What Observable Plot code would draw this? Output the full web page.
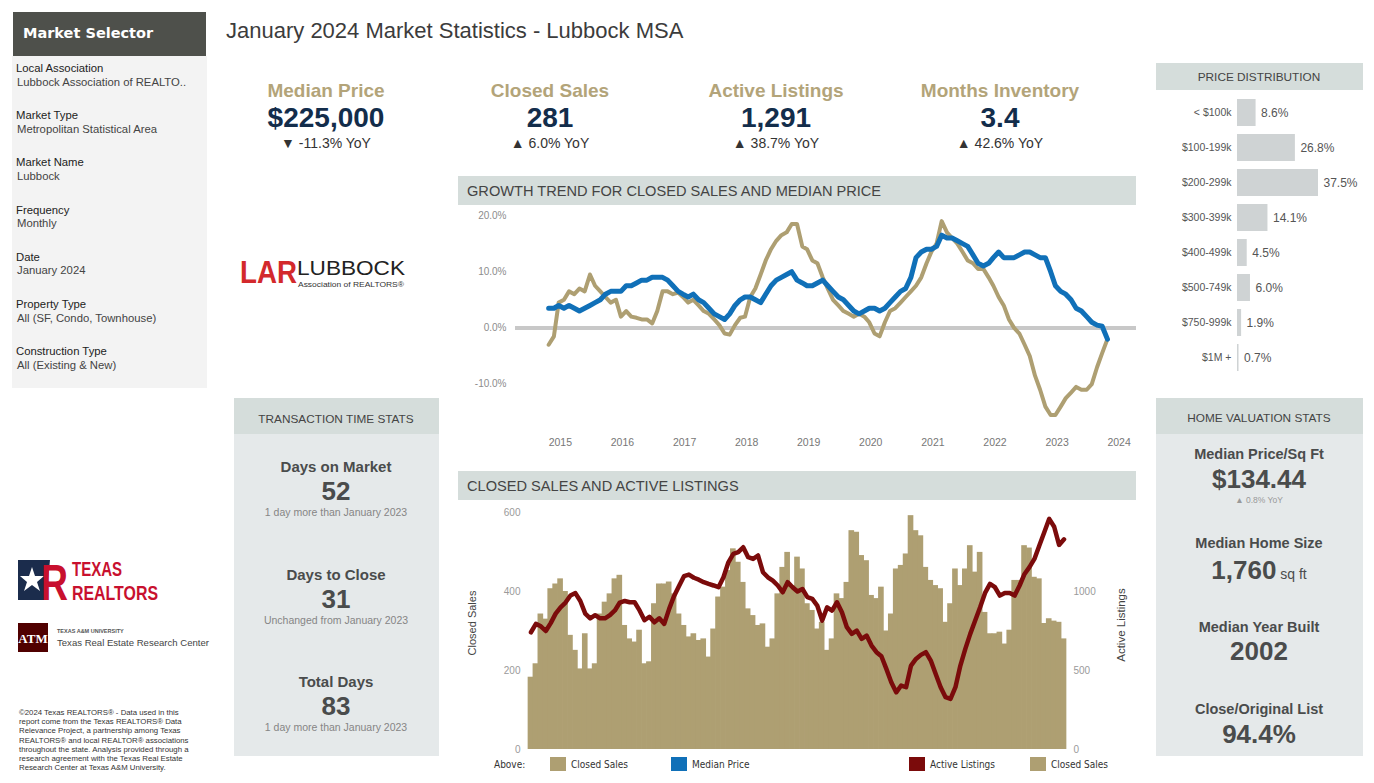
<!DOCTYPE html>
<html><head><meta charset="utf-8">
<script src="https://cdn.jsdelivr.net/npm/d3@7"></script>
<script src="https://cdn.jsdelivr.net/npm/@observablehq/plot@0.6"></script>
<style>
body{margin:0;background:#fff;font-family:"Liberation Sans",Arial,sans-serif;}
#page{position:relative;width:1374px;height:783px;overflow:hidden;background:#fff;}
.w{position:absolute;}
</style></head>
<body><div id="page"></div>
<script>
// ---------------- DATA ----------------
const selectorLabels = ["Local Association","Market Type","Market Name","Frequency","Date","Property Type","Construction Type"];
const selectorValues = ["Lubbock Association of REALTO..","Metropolitan Statistical Area","Lubbock","Monthly","January 2024","All (SF, Condo, Townhouse)","All (Existing & New)"];

const kpiLabels = ["Median Price","Closed Sales","Active Listings","Months Inventory"];
const kpiValues = ["$225,000","281","1,291","3.4"];
const kpiYoY = ["▼ -11.3% YoY","▲ 6.0% YoY","▲ 38.7% YoY","▲ 42.6% YoY"];

const priceBins = ["< $100k","$100-199k","$200-299k","$300-399k","$400-499k","$500-749k","$750-999k","$1M +"];
const priceShares = [8.6, 26.8, 37.5, 14.1, 4.5, 6.0, 1.9, 0.7];

const timeStatLabels = ["Days on Market","Days to Close","Total Days"];
const timeStatValues = ["52","31","83"];
const timeStatNotes = ["1 day more than January 2023","Unchanged from January 2023","1 day more than January 2023"];

const homeStatLabels = ["Median Price/Sq Ft","Median Home Size","Median Year Built","Close/Original List"];
const homeStatValues = ["$134.44","1,760","2002","94.4%"];

// monthly Jan 2015 .. Jan 2024 (109 months)
const months = d3.utcMonth.range(new Date(Date.UTC(2015,0,1)), new Date(Date.UTC(2024,1,1)));
const yearTicks = [2015,2016,2017,2018,2019,2020,2021,2022,2023,2024];
const growthTicks = [-10, 0, 10, 20];

// YoY growth, closed sales (%)
const salesGrowth = [
 -3,-1.5,4.5,5,6.5,6,7,6.5,9.5,7.5,6.5,5.5,
 4.5,5,2,3,2,1.8,1.5,1.5,0.8,3,6.5,6.5,
 6,6.3,5.5,4.5,5,4,3,2.5,1.5,0.5,-1,-1.2,
 0.5,1.8,2,5.5,7,9.5,12,14,15.5,16.5,17,18.5,
 18.5,14.5,14,12,11.5,9,7,5,4,3,2.5,2,
 2.5,2,1,-1,-1.5,1,3,3.5,4.5,5.5,6.5,7.5,
 9,11.5,13.5,15,19,17,16,15,13.5,12,11.5,10.5,
 10.5,9,7.5,5.5,4,1.5,0,-1,-3,-5,-8.5,-11,
 -14,-15.5,-15.5,-14,-12.5,-11.5,-10.5,-11,-11,-10,-7,-4.5,
 -2];
// YoY growth, median price (%)
const priceGrowth = [
 3.5,3.5,4,3.5,4,3.5,3,3.5,4,4.5,5,6,
 6.5,6.5,6.5,7.5,7.5,8,8.5,8.5,9,9,9,8.5,
 7.5,6.5,6,5.5,6,5,4.5,3.5,2.5,2,1.5,2.5,
 4,5,5.5,5.5,5,4.5,6,7.5,8.5,9,9.5,10,
 8.5,8,7.5,7.5,8,8.5,7.5,6.5,5.5,5,4,3,
 2.5,3,3.5,3.5,3,3.5,4.5,5.5,6.5,7,9,12.5,
 13.5,14,14,14.5,16.5,16,16,15.5,15,14.5,13,11.5,
 11,11.5,12.5,13.5,12.5,12.5,12.5,13,13.5,13.5,13,12.5,
 12.5,10,7.5,6.5,6,5,3.5,3,2,1,0.5,0.3,
 -2];

// Closed sales (monthly count)
const closedSales = [
 183,217,343,330,407,419,432,400,289,251,204,293,
 204,217,343,373,394,432,441,314,280,272,302,217,
 222,369,419,419,424,394,343,314,285,293,276,280,
 234,305,386,411,453,508,474,423,356,339,314,318,
 259,280,394,461,499,415,487,457,369,352,305,322,
 251,280,394,382,423,554,550,491,478,390,382,411,
 300,343,457,466,495,592,554,541,461,428,415,407,
 322,369,457,415,457,516,449,499,347,293,293,297,
 267,302,428,428,516,510,436,432,319,331,325,322,
 280];
// Active listings (monthly)
const activeListings = [
 742,795,780,750,800,860,900,930,975,990,940,860,
 830,850,830,830,850,880,930,940,932,932,880,818,
 840,805,830,795,890,972,1035,1097,1107,1087,1075,1059,
 1048,1038,1027,1090,1185,1238,1249,1280,1217,1206,1228,1122,
 1090,1069,1038,995,1059,1027,1000,1016,964,953,911,816,
 900,879,932,869,774,732,753,700,721,658,616,590,
 510,426,362,405,394,531,573,599,616,563,478,394,
 331,320,394,531,637,732,816,900,991,1048,1027,974,
 991,991,974,1038,1111,1154,1206,1291,1375,1460,1410,1295,
 1330];
const salesTicks = [0, 200, 400, 600];
const listingTicks = [0, 500, 1000];
const listingsPerSale = 2.5; // right-axis ratio (1500 : 600)

const legendItems = [["Above:", null],["Closed Sales","gold"],["Median Price","blue"],["Active Listings","red"],["Closed Sales","gold"]];

const copyrightLines = [
 "©2024 Texas REALTORS® - Data used in this",
 "report come from the Texas REALTORS® Data",
 "Relevance Project, a partnership among Texas",
 "REALTORS® and local REALTOR® associations",
 "throughout the state. Analysis provided through a",
 "research agreement with the Texas Real Estate",
 "Research Center at Texas A&M University."];

// ---------------- STYLE ----------------
const C = {gold:"#ae9f72", blue:"#1070b8", red:"#7b0b0b", head:"#d5dddb", panel:"#e5e9ea",
  kpiLabel:"#b3a479", kpiValue:"#132d4b", stat:"#4a4c4c"};
const FONT = '"Liberation Sans", Arial, sans-serif';
const page = document.getElementById("page");

function box(x,y,w,h,bg){const d=document.createElement("div");d.className="w";
  d.style.cssText+=`left:${x}px;top:${y}px;width:${w}px;height:${h}px;background:${bg};`;page.appendChild(d);return d;}
function txt(s,x,y,css,anchor){const d=document.createElement("div");d.className="w";d.textContent=s;
  const tx=anchor==="middle"?"-50%":anchor==="end"?"-100%":"0";
  d.style.cssText+=`left:${x}px;top:${y}px;transform:translate(${tx},-50%);white-space:nowrap;line-height:1.1;${css}`;
  page.appendChild(d);return d;}
function html(s,x,y,css){const d=document.createElement("div");d.className="w";d.innerHTML=s;
  d.style.cssText+=`left:${x}px;top:${y}px;${css}`;page.appendChild(d);return d;}

// ---------------- LEFT PANEL ----------------
box(12,56,195,332,"#f3f3f3");
box(13,12,193,44,"#4e504b");
txt("Market Selector",23,34,'font-family:"DejaVu Sans",Verdana;font-weight:bold;font-size:14.5px;color:#fff;');
selectorLabels.forEach((l,i)=>{
  const y=68+i*47.2;
  txt(l,16,y,"font-size:11.3px;color:#222;");
  txt(selectorValues[i],17,y+13.5,"font-size:11.3px;color:#444;");
});

// ---------------- TITLE & KPIs ----------------
txt("January 2024 Market Statistics - Lubbock MSA",226,31,"font-size:22px;color:#3c3c3c;");
const kpiX=[326,550,776,1000];
kpiLabels.forEach((l,i)=>{
  txt(l,kpiX[i],91,`font-size:19px;font-weight:bold;color:${C.kpiLabel};`,"middle");
  txt(kpiValues[i],kpiX[i],118,`font-size:28px;font-weight:bold;color:${C.kpiValue};`,"middle");
  txt(kpiYoY[i],kpiX[i],144,"font-size:14px;color:#333;","middle");
});

// LAR logo
html(`<svg width="172" height="34" style="overflow:visible">
 <text x="0" y="27" font-family="Liberation Sans" font-weight="bold" font-size="31" fill="#d3292c" textLength="57" lengthAdjust="spacingAndGlyphs">LAR</text>
 <text x="57" y="19" font-family="Liberation Sans" font-size="21" fill="#222" textLength="108" lengthAdjust="spacingAndGlyphs">LUBBOCK</text>
 <text x="58" y="30.5" font-family="Liberation Sans" font-size="7" fill="#333" textLength="106" lengthAdjust="spacingAndGlyphs">Association of REALTORS®</text>
</svg>`,240,256,"");

// ---------------- GROWTH CHART ----------------
box(458,176,678,29,C.head);
txt("GROWTH TREND FOR CLOSED SALES AND MEDIAN PRICE",467,190.5,"font-size:14.6px;color:#444;");
const growthRows = months.map((d,i)=>({date:d, sales:salesGrowth[i], price:priceGrowth[i]}));
const growth = Plot.plot({
  width:678, height:250, marginLeft:57, marginRight:0, marginTop:10, marginBottom:27,
  style:{background:"transparent", fontFamily:FONT, fontSize:"10px", color:"#8c8c8c", overflow:"visible"},
  x:{type:"utc", domain:[new Date(Date.UTC(2014,5,20)), new Date(Date.UTC(2024,5,20))]},
  y:{domain:[-17.9, 20]},
  marks:[
    Plot.ruleY([0],{stroke:"#c8c8c8", strokeWidth:4}),
    Plot.axisY(growthTicks,{tickSize:0, tickPadding:9, label:null, tickFormat:d=>d.toFixed(1)+"%"}),
    Plot.axisX(yearTicks.map(y=>new Date(Date.UTC(y,0,1))),{tickSize:0, tickPadding:10, textAnchor:"start", label:null, tickFormat:d=>String(d.getUTCFullYear()), fontSize:10.5, fill:"#777"}),
    Plot.lineY(growthRows,{x:"date", y:"sales", stroke:C.gold, strokeWidth:4, strokeLinejoin:"round"}),
    Plot.lineY(growthRows,{x:"date", y:"price", stroke:C.blue, strokeWidth:5, strokeLinejoin:"round"})
  ]
});
const gw=document.createElement("div");gw.className="w";gw.style.cssText+="left:458px;top:205px;";gw.appendChild(growth);page.appendChild(gw);

// ---------------- CLOSED SALES / ACTIVE LISTINGS ----------------
box(458,471,678,29,C.head);
txt("CLOSED SALES AND ACTIVE LISTINGS",467,485.5,"font-size:14.6px;color:#444;");
const monthKeys = months.map(d=>d3.utcFormat("%Y-%m")(d));
const salesRows = months.map((d,i)=>({key:monthKeys[i], sales:closedSales[i], listings:activeListings[i]}));
const bars = Plot.plot({
  width:678, height:252, marginLeft:70, marginRight:70, marginTop:12, marginBottom:3,
  style:{background:"transparent", fontFamily:FONT, fontSize:"10px", color:"#9a9a9a", overflow:"visible"},
  x:{type:"band", domain:monthKeys, padding:0, axis:null},
  y:{domain:[0,600]},
  marks:[
    Plot.barY(salesRows,{x:"key", y:"sales", fill:C.gold, insetLeft:-0.35, insetRight:-0.35}),
    Plot.lineY(salesRows,{x:"key", y:d=>d.listings/listingsPerSale, stroke:C.red, strokeWidth:4.5, strokeLinejoin:"round"}),
    Plot.axisY(salesTicks,{anchor:"left", tickSize:0, tickPadding:8, label:null}),
    Plot.axisY(listingTicks.map(v=>v/listingsPerSale),{anchor:"right", tickSize:0, tickPadding:7, label:null, tickFormat:d=>String(Math.round(d*listingsPerSale))})
  ]
});
const bw=document.createElement("div");bw.className="w";bw.style.cssText+="left:458px;top:500px;";bw.appendChild(bars);page.appendChild(bw);
txt("Closed Sales",472,623,"font-size:11px;color:#444;transform:translate(-50%,-50%) rotate(-90deg);","middle");
txt("Active Listings",1121,625,"font-size:11.5px;color:#444;transform:translate(-50%,-50%) rotate(-90deg);","middle");

// legend
const legX=[494,550,671,909,1030];
const LF='font-family:"DejaVu Sans Condensed","DejaVu Sans";font-stretch:condensed;font-size:10px;color:#333;';
legendItems.forEach(([name,col],i)=>{
  if(!col){txt(name,legX[i],764,LF);return;}
  box(legX[i],757,16,14,C[col]);
  txt(name,legX[i]+21,764,LF);
});

// ---------------- PRICE DISTRIBUTION ----------------
box(1156,63,207,27,C.head);
txt("PRICE DISTRIBUTION",1259,77,"font-size:11.8px;color:#444;","middle");
const priceRows = priceBins.map((b,i)=>({bin:b, pct:priceShares[i]}));
const dist = Plot.plot({
  width:206, height:285, marginLeft:81, marginRight:44, marginTop:3, marginBottom:3,
  style:{background:"transparent", fontFamily:FONT, fontSize:"10.5px", color:"#555", overflow:"visible"},
  x:{domain:[0,37.5], axis:null},
  y:{type:"band", domain:priceBins, paddingInner:0.23, paddingOuter:0.1, axis:null},
  marks:[
    Plot.barX(priceRows,{y:"bin", x:"pct", fill:"#cfd3d4"}),
    Plot.axisY({tickSize:0, tickPadding:6, label:null}),
    Plot.text(priceRows,{y:"bin", x:"pct", text:d=>d.pct.toFixed(1)+"%", textAnchor:"start", dx:5, fontSize:12, fill:"#555"})
  ]
});
const dw=document.createElement("div");dw.className="w";dw.style.cssText+="left:1156px;top:92px;";dw.appendChild(dist);page.appendChild(dw);

// ---------------- TRANSACTION TIME STATS ----------------
box(234,398,205,358,C.panel);
box(234,398,205,36,C.head);
txt("TRANSACTION TIME STATS",336,419,"font-size:11.8px;color:#444;","middle");
const tsY=[467,575,682];
timeStatLabels.forEach((l,i)=>{
  txt(l,336,tsY[i],`font-size:15px;font-weight:bold;color:${C.stat};`,"middle");
  txt(timeStatValues[i],336,tsY[i]+24,`font-size:26px;font-weight:bold;color:${C.stat};`,"middle");
  txt(timeStatNotes[i],336,tsY[i]+46,"font-size:10.5px;color:#858585;","middle");
});

// ---------------- HOME VALUATION STATS ----------------
box(1156,398,207,358,C.panel);
box(1156,398,207,36,C.head);
txt("HOME VALUATION STATS",1259,418,"font-size:11.8px;color:#444;","middle");
const hsY=[455,544,628,710];
homeStatLabels.forEach((l,i)=>{
  txt(l,1259,hsY[i],`font-size:14.5px;font-weight:bold;color:${C.stat};`,"middle");
});
txt(homeStatValues[0],1259,479,`font-size:26px;font-weight:bold;color:${C.stat};`,"middle");
txt("▲ 0.8% YoY",1259,501,"font-size:8.5px;color:#999;","middle");
html(`<span style="font-size:26px;font-weight:bold;color:${C.stat}">${homeStatValues[1]}</span><span style="font-size:14px;color:${C.stat}"> sq ft</span>`,1259,570,"transform:translate(-50%,-50%);white-space:nowrap;line-height:1.1;");
txt(homeStatValues[2],1259,651,`font-size:26px;font-weight:bold;color:${C.stat};`,"middle");
txt(homeStatValues[3],1259,734,`font-size:26px;font-weight:bold;color:${C.stat};`,"middle");

// ---------------- LOGOS & FOOTNOTE ----------------
html(`<svg width="150" height="48" style="overflow:visible">
 <path d="M2 4 L34 4 L30 44 L2 44 Z" fill="#1b2c4c"/>
 <polygon fill="#fff" points="16,11 19,20 28,20 21,26 24,35 16,29 8,35 11,26 4,20 13,20"/>
 <text x="25" y="44" font-family="Liberation Sans" font-weight="bold" font-size="50" fill="#c8102e" textLength="27" lengthAdjust="spacingAndGlyphs">R</text>
 <text x="56" y="20" font-family="Liberation Sans" font-weight="bold" font-size="21" fill="#c8102e" textLength="50" lengthAdjust="spacingAndGlyphs">TEXAS</text>
 <text x="56" y="44" font-family="Liberation Sans" font-weight="bold" font-size="21" fill="#c8102e" textLength="86" lengthAdjust="spacingAndGlyphs">REALTORS</text>
</svg>`,16,556,"");
html(`<svg width="200" height="32" style="overflow:visible">
 <rect x="0" y="0" width="30" height="29" fill="#500000"/>
 <text x="15" y="20" text-anchor="middle" font-family="Liberation Serif" font-weight="bold" font-size="13" fill="#fff">ATM</text>
 <text font-family="Liberation Sans"><tspan x="39" y="10" font-weight="bold" font-size="5.5" fill="#555">TEXAS A&amp;M UNIVERSITY</tspan><tspan x="39" y="23" font-size="9.8" fill="#444" textLength="152" lengthAdjust="spacingAndGlyphs">Texas Real Estate Research Center</tspan></text>
</svg>`,18,623,"");
html(copyrightLines.join("<br>"),19,708,"font-size:7.8px;line-height:9.2px;color:#333;white-space:nowrap;");
</script>
</body></html>
